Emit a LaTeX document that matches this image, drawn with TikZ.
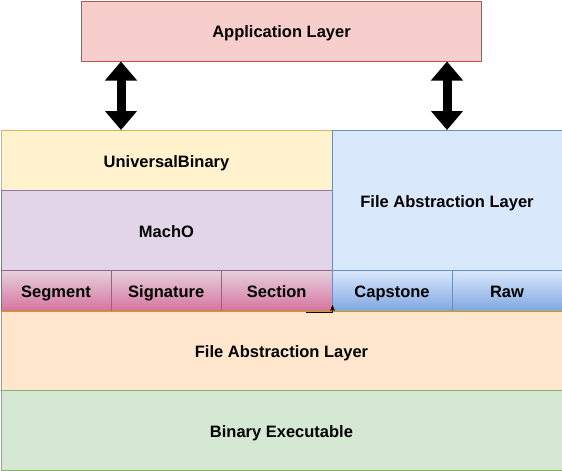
\documentclass[tikz,border=0pt]{standalone}
\usepackage{fontspec}
\setmainfont{Liberation Sans}
\usetikzlibrary{arrows.meta,positioning,calc}
\definecolor{redF}{HTML}{F8CECC}    \definecolor{redD}{HTML}{B85450}
\definecolor{yelF}{HTML}{FFF2CC}    \definecolor{yelD}{HTML}{D6B656}
\definecolor{purF}{HTML}{E1D5E7}    \definecolor{purD}{HTML}{9673A6}
\definecolor{bluF}{HTML}{DAE8FC}    \definecolor{bluD}{HTML}{6C8EBF}
\definecolor{bluG}{HTML}{7EA6E0}
\definecolor{pnkF}{HTML}{E6D0DE}    \definecolor{pnkG}{HTML}{D5739D}
\definecolor{pnkD}{HTML}{996185}
\definecolor{orgF}{HTML}{FFE6CC}    \definecolor{orgD}{HTML}{D79B00}
\definecolor{grnF}{HTML}{D5E8D4}    \definecolor{grnD}{HTML}{82B366}
\begin{document}
\begin{tikzpicture}[x=1pt, y=-1pt, font=\fontsize{16.5}{20}\selectfont\bfseries, line join=round,
	layer/.style={draw, line width=1pt, inner sep=0pt, text height=13pt, text depth=0pt, anchor=north west},
	part/.style={layer, minimum height=41pt},
	pink/.style={part, top color=pnkF, bottom color=pnkG, draw=pnkD},
	blue/.style={part, top color=bluF, bottom color=bluG, draw=bluD},
	biarrow/.style={line width=9pt, {Triangle[length=19pt,width=31pt]}-{Triangle[length=19pt,width=31pt]}}]
	\useasboundingbox (0,0) rectangle (562,471);
	% layers
	\node[layer, fill=redF, draw=redD, minimum width=400pt, minimum height=60pt] (app) at (81,0.5) {Application Layer};
	\node[layer, fill=yelF, draw=yelD, minimum width=331pt, minimum height=60pt] (ub) at (0.5,130) {UniversalBinary};
	\node[layer, fill=purF, draw=purD, minimum width=331pt, minimum height=80pt] (macho) at (0.5,190) {MachO};
	\node[layer, fill=bluF, draw=bluD, minimum width=230pt, minimum height=140pt] (fal) at (331.5,130) {File Abstraction Layer};
	\foreach \nm/\txt/\xa/\bw in {seg/Segment/0.5/110, sig/Signature/110.5/110.5, sect/Section/221/110.5}
		\node[pink, minimum width=\bw pt] (\nm) at (\xa,270) {\txt};
	\foreach \nm/\txt/\xa/\bw in {cap/Capstone/331.5/120, raw/Raw/451.5/110}
		\node[blue, minimum width=\bw pt] (\nm) at (\xa,270) {\txt};
	\node[layer, fill=orgF, draw=orgD, minimum width=561pt, minimum height=79pt] (fab) at (0.5,311) {File Abstraction Layer};
	\node[layer, fill=grnF, draw=grnD, minimum width=561pt, minimum height=80pt] (bin) at (0.5,390) {Binary Executable};
	% connectors
	\draw[biarrow] ([xshift=40pt]app.south west) -- ([xshift=40pt]app.south west |- ub.north);
	\draw[biarrow] ([xshift=-35pt]app.south east) -- ([xshift=-35pt]app.south east |- fal.north);
	\draw[line width=1pt, -{Stealth[length=6pt,width=5pt]}] ([xshift=-27pt]sect.south east) -| ([yshift=7pt]sect.south east);
\end{tikzpicture}
\end{document}
